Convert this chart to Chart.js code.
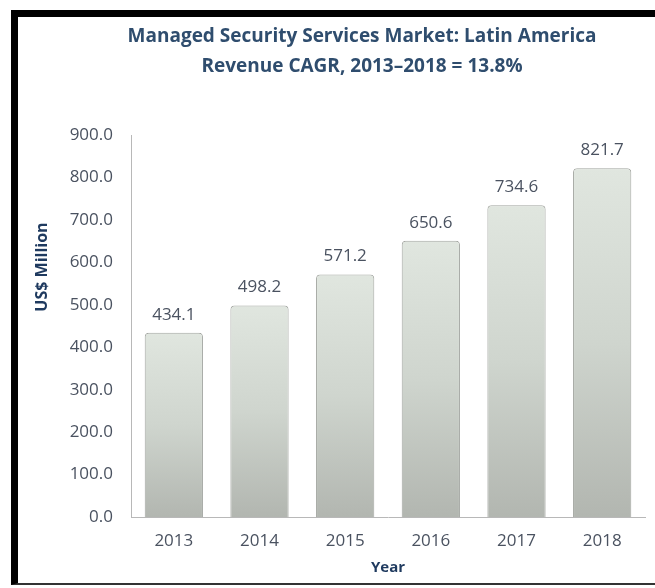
<!DOCTYPE html>
<html>
<head>
<meta charset="utf-8">
<script src="https://cdn.jsdelivr.net/npm/chart.js@4"></script>
<style>
  html, body { margin: 0; padding: 0; background: #fff; overflow: hidden; }
  body { width: 655px; height: 588px; position: relative; }
  #frame {
    position: absolute; left: 11px; top: 10px; width: 637px; height: 566px;
    border-left: 7px solid #000; border-top: 7px solid #000; border-bottom: 2px solid #333;
  }
  #wrap { position: absolute; left: 18px; top: 17px; width: 637px; height: 569px; }
</style>
</head>
<body>
<div id="frame"></div>
<div id="wrap"><canvas id="mssChart"></canvas></div>
<script>
// Chart data
const years = ['2013', '2014', '2015', '2016', '2017', '2018'];
const revenue = [434.1, 498.2, 571.2, 650.6, 734.6, 821.7];
const titleLines = ['Managed Security Services Market: Latin America', 'Revenue CAGR, 2013\u20132018 = 13.8%'];
const yTitle = 'US$ Million';
const xTitle = 'Year';
const yMin = 0;
const yMax = 900;
const yStep = 100;

const FONT = '"Open Sans", Lato, sans-serif';

// title and y-axis title drawn by hand so they can sit off-centre like the original
const textPlugin = {
  id: 'extraText',
  afterDraw(chart) {
    const ctx = chart.ctx;
    ctx.save();
    ctx.textAlign = 'center';
    ctx.textBaseline = 'middle';
    ctx.fillStyle = '#2f4d6e';
    ctx.font = 'bold 19px ' + FONT;
    ctx.fillText(titleLines[0], 344, 20);
    ctx.fillText(titleLines[1], 344, 50);

    ctx.fillStyle = '#1f3a5f';
    ctx.font = 'bold 16px ' + FONT;
    ctx.translate(24, 250);
    ctx.rotate(-Math.PI / 2);
    ctx.fillText(yTitle, 0, 0);
    ctx.restore();
  }
};

// value labels above bars
const valueLabels = {
  id: 'valueLabels',
  afterDatasetsDraw(chart) {
    const ctx = chart.ctx;
    const meta = chart.getDatasetMeta(0);
    ctx.save();
    ctx.fillStyle = '#4a5260';
    ctx.font = '17px ' + FONT;
    ctx.textAlign = 'center';
    ctx.textBaseline = 'middle';
    meta.data.forEach((bar, i) => {
      ctx.fillText(revenue[i].toFixed(1), bar.x, bar.y - 18);
    });
    ctx.restore();
  }
};

const ctx = document.getElementById('mssChart').getContext('2d');
new Chart(ctx, {
  type: 'bar',
  data: {
    labels: years,
    datasets: [{
      label: 'Revenue',
      data: revenue,
      backgroundColor: (c) => {
        const chart = c.chart;
        if (!chart.chartArea || c.raw == null) return '#c8cdc6';
        const y = chart.scales.y;
        const top = y.getPixelForValue(c.raw);
        const bottom = y.getPixelForValue(0);
        const g = chart.ctx.createLinearGradient(0, top, 0, bottom);
        g.addColorStop(0, '#e0e6df');
        g.addColorStop(0.5, '#cfd5ce');
        g.addColorStop(1, '#b2b6b0');
        return g;
      },
      borderColor: '#a3a6a1',
      borderWidth: 1,
      borderRadius: { topLeft: 4, topRight: 4 },
      borderSkipped: 'bottom',
      barPercentage: 0.68,
      categoryPercentage: 1
    }]
  },
  options: {
    responsive: true,
    maintainAspectRatio: false,
    animation: false,
    layout: { padding: { top: 118, right: 10, bottom: 9, left: 0 } },
    plugins: {
      legend: { display: false },
      tooltip: { enabled: false }
    },
    scales: {
      x: {
        afterFit: (scale) => { scale.height = 60; },
        grid: { display: false, drawTicks: false },
        border: { color: '#b8b8b8', width: 1 },
        ticks: { color: '#4a5260', font: { family: FONT, size: 17 }, padding: 14 },
        title: {
          display: true, text: xTitle, color: '#1f3a5f',
          font: { family: FONT, size: 15, weight: 'bold' }, padding: { top: 0, bottom: 0 }
        }
      },
      y: {
        min: yMin,
        max: yMax,
        afterFit: (scale) => { scale.width = 113; },
        grid: { display: false, drawTicks: false },
        border: { color: '#b8b8b8', width: 1 },
        ticks: {
          stepSize: yStep,
          color: '#4a5260',
          font: { family: FONT, size: 17 },
          padding: 18,
          callback: (v) => Number(v).toFixed(1)
        }
      }
    }
  },
  plugins: [textPlugin, valueLabels]
});
</script>
</body>
</html>
